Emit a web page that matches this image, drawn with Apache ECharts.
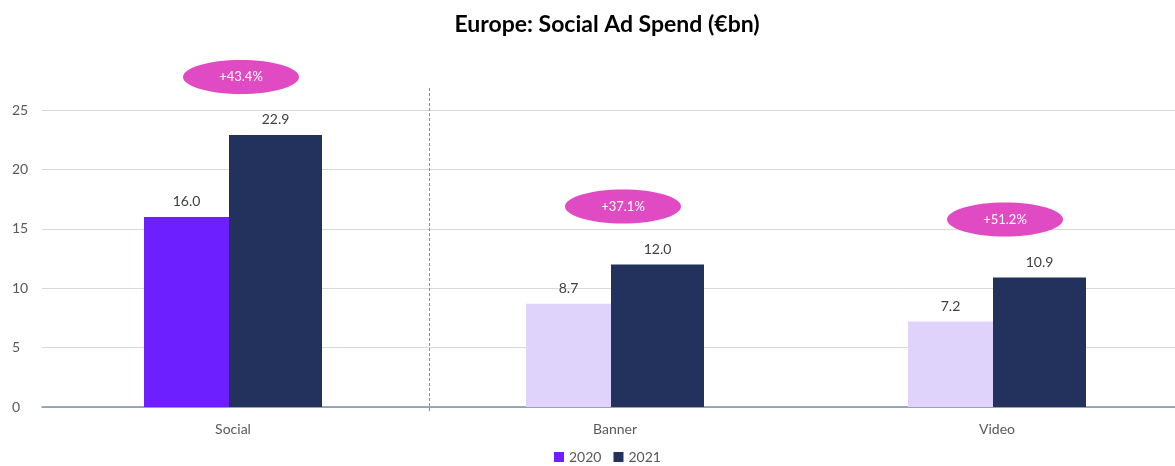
<!DOCTYPE html>
<html>
<head>
<meta charset="utf-8">
<script src="https://cdn.jsdelivr.net/npm/echarts@6/dist/echarts.min.js"></script>
<style>
  html, body { margin: 0; padding: 0; background: #fff; overflow: hidden; }
  #wrap { width: 1175px; height: 466px; overflow: hidden; }
  #chart { width: 1188px; height: 466px; }
</style>
</head>
<body>
<div id="wrap"><div id="chart"></div></div>
<script>
// Ad formats and yearly spend (€bn)
const categories = ['Social', 'Banner', 'Video'];
const spend2020 = [16.0, 8.7, 7.2];
const spend2021 = [22.9, 12.0, 10.9];
const growthLabels = ['+43.4%', '+37.1%', '+51.2%'];
const yTicks = [0, 5, 10, 15, 20, 25];

const FONT = 'Lato, "Open Sans", sans-serif';
const C2020_HI = '#6E1FFF';
const C2020 = '#E0D3FB';
const C2021 = '#22325C';
const PINK = '#E04BC4';

const chart = echarts.init(document.getElementById('chart'));

const option = {
  animation: false,
  textStyle: { fontFamily: FONT },
  title: {
    text: 'Europe: Social Ad Spend (€bn)',
    left: 602,
    textAlign: 'center',
    top: 8,
    textStyle: { fontFamily: FONT, fontSize: 23, fontWeight: 'bold', color: '#000' }
  },
  legend: {
    top: 445,
    left: 549,
    itemWidth: 10,
    itemHeight: 10,
    itemGap: 12,
    icon: 'rect',
    textStyle: { fontFamily: FONT, fontSize: 14, color: '#595959' },
    data: [
      { name: '2020', itemStyle: { color: C2020_HI } },
      { name: '2021', itemStyle: { color: C2021 } }
    ]
  },
  grid: { left: 42, top: 110, right: 0, bottom: 59 },
  xAxis: {
    type: 'category',
    data: categories,
    axisLine: { lineStyle: { color: '#7F8FA9', width: 1.5 } },
    axisTick: { show: false },
    axisLabel: { fontFamily: FONT, fontSize: 14, color: '#595959', margin: 15 }
  },
  yAxis: {
    type: 'value',
    min: yTicks[0],
    max: yTicks[yTicks.length - 1],
    interval: 5,
    axisLine: { show: false },
    axisTick: { show: false },
    splitLine: { lineStyle: { color: '#D9D9D9', width: 1 } },
    axisLabel: { fontFamily: FONT, fontSize: 14, color: '#595959', margin: 30, align: 'left',
                 formatter: v => String(v) }
  },
  series: [
    {
      name: '2020',
      type: 'bar',
      barWidth: 85,
      barGap: '0%',
      data: spend2020.map((v, i) => ({ value: v, itemStyle: { color: i === 0 ? C2020_HI : C2020 } })),
      label: { show: true, position: 'top', distance: 8, fontFamily: FONT, fontSize: 14, color: '#404040',
               formatter: p => p.value.toFixed(1) }
    },
    {
      name: '2021',
      type: 'bar',
      barWidth: 93,
      barGap: '0%',
      itemStyle: { color: C2021 },
      data: spend2021,
      label: { show: true, position: 'top', distance: 8, fontFamily: FONT, fontSize: 14, color: '#404040',
               formatter: p => p.value.toFixed(1) }
    },
    {
      // Year-on-year growth badges floating above each category
      name: 'growth',
      type: 'custom',
      clip: false,
      z: 10,
      data: spend2021.map((v, i) => [i, v, growthLabels[i]]),
      renderItem: (params, api) => {
        const pt = api.coord([api.value(0), api.value(1)]);
        const cx = pt[0] + 8;
        const cy = pt[1] - 58;
        return {
          type: 'group',
          children: [
            { type: 'ellipse', shape: { cx: cx, cy: cy, rx: 58, ry: 17 }, style: { fill: PINK } },
            { type: 'text', x: cx, y: cy,
              style: { text: growthLabels[params.dataIndex], fill: '#fff', fontFamily: FONT,
                       fontSize: 13, align: 'center', verticalAlign: 'middle' } }
          ]
        };
      }
    }
  ]
};

chart.setOption(option);

// Dashed divider between the Social group and the other formats
const pSocial = chart.convertToPixel({ xAxisIndex: 0 }, categories[0]);
const pBanner = chart.convertToPixel({ xAxisIndex: 0 }, categories[1]);
const divX = Math.round((pSocial + pBanner) / 2) + 5.5;
const yTop = chart.convertToPixel({ yAxisIndex: 0 }, yTicks[yTicks.length - 1]);
const yBase = chart.convertToPixel({ yAxisIndex: 0 }, 0);
chart.setOption({
  graphic: [{
    type: 'line',
    shape: { x1: divX, y1: yTop - 22, x2: divX, y2: yBase + 5 },
    style: { stroke: '#8C8C8C', lineWidth: 1, lineDash: [3, 2] },
    z: 5
  }]
});
</script>
</body>
</html>
